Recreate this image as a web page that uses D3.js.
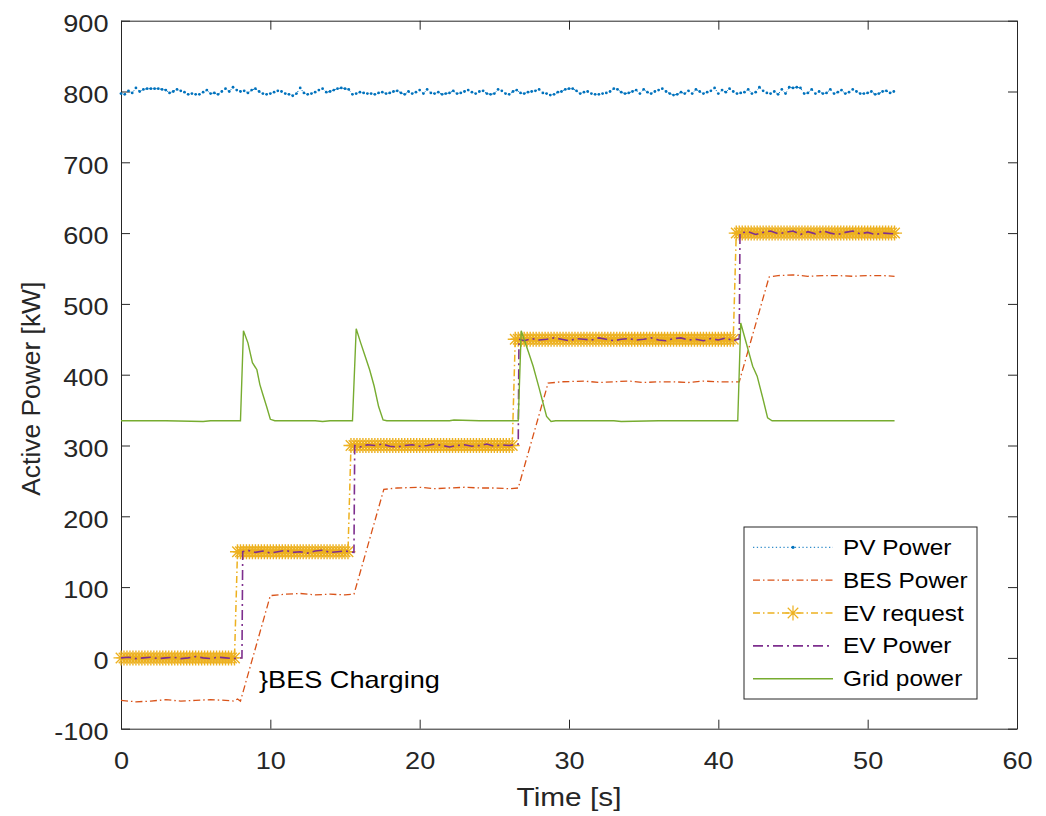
<!DOCTYPE html>
<html>
<head>
<meta charset="utf-8">
<script src="https://cdn.jsdelivr.net/npm/d3@7"></script>
<style>
  body { margin: 0; background: #fff; }
  text { font-family: "Liberation Sans", Arial, Helvetica, sans-serif; fill: #262626; }
</style>
</head>
<body>
<svg width="1046" height="816"></svg>
<script>
// ---- data ----
const xTicks = [0, 10, 20, 30, 40, 50, 60];
const yTicks = [-100, 0, 100, 200, 300, 400, 500, 600, 700, 800, 900];

// PV power, one sample every 0.25 s from t = 0
const pvStep = 0.25;
const pvPower = [
  797,796,801,798,805,800,803,804,804,804,804,803,802,798,800,803,801,799,796,797,
  796,796,799,802,797,798,796,800,804,800,806,802,800,801,798,802,804,800,797,796,
  797,799,801,800,797,796,794,797,805,798,796,797,799,802,804,799,800,802,804,805,
  804,803,796,797,799,798,797,797,796,798,799,797,798,800,801,798,796,800,797,799,
  802,797,803,798,797,799,796,797,798,801,797,798,800,802,799,797,800,801,797,796,
  797,803,801,797,796,800,802,798,797,799,800,801,803,798,797,795,796,799,800,803,
  804,804,801,797,799,800,797,796,796,797,798,800,804,803,799,797,798,800,802,797,
  803,799,797,800,802,804,800,797,795,796,799,797,801,797,803,800,797,799,801,805,
  797,802,799,804,800,797,798,799,803,797,799,806,801,798,797,800,796,803,797,806,
  805,806,805,797,798,803,797,800,797,798,803,797,799,802,797,799,803,800,797,797,
  798,800,796,797,800,801,798,800
];

// BES power [t, kW]
const besPower = [
  [0,-60],[1,-62],[2,-61],[3,-59],[4,-61],[5,-60],[6,-59],[7,-60],[7.6,-61],[7.8,-58],[8.0,-61],
  [10.0,88],[11,90],[12,91],[13,89],[14,90],[15,89],[15.6,90],
  [17.6,238],[18.5,240],[20,241],[21,239],[22,240],[23,241],[24,240],[25,240],[26,239],[26.6,240],
  [28.6,388],[29.5,390],[31,391],[32,389],[33,390],[34,391],[35,389],[36,390],[37,390],[38,389],[39,391],[40,390],[41.4,390],
  [43.4,538],[44,540],[45,541],[46,539],[47,540],[48,540],[49,539],[50,540],[51,540],[51.8,539]
];

// EV request: step levels, switching times, sampled every 0.2 s
const evRequestLevels = [0, 150, 300, 450, 600];
const evRequestSwitch = [7.8, 15.4, 26.4, 41.2];
const evRequestStep = 0.2;
const evRequestEnd = 51.8;

// EV power [t, kW]
const evPower = [
  [0,0],[0.5,1],[1,-1],[1.5,0],[2,1],[2.5,-1],[3,0],[3.5,1],[4,-1],[4.5,0],[5,2],[5.5,0],[6,-1],[6.5,1],[7,0],[7.5,-1],[8.1,0],
  [8.15,150],[8.5,152],[9,149],[9.5,151],[10,148],[10.5,150],[11,152],[11.5,149],[12,150],[12.5,148],[13,151],[13.5,152],[14,149],[14.5,150],[15,151],[15.6,149],
  [15.65,300],[16,298],[16.5,301],[17,300],[17.5,302],[18,299],[18.5,298],[19,300],[19.5,301],[20,299],[20.5,300],[21,302],[21.5,300],[22,298],[22.5,300],[23,301],[23.5,299],[24,300],[24.5,302],[25,299],[25.5,301],[26,300],[26.6,302],
  [26.65,450],[27,448],[27.5,451],[28,449],[28.5,450],[29,452],[29.5,450],[30,448],[30.5,451],[31,450],[31.5,449],[32,452],[32.5,450],[33,448],[33.5,450],[34,451],[34.5,449],[35,450],[35.5,452],[36,449],[36.5,448],[37,451],[37.5,452],[38,449],[38.5,450],[39,448],[39.5,451],[40,449],[40.5,452],[41,448],[41.4,451],
  [41.45,600],[42,602],[42.5,598],[43,601],[43.5,603],[44,599],[44.5,601],[45,603],[45.5,598],[46,602],[46.5,599],[47,603],[47.5,600],[48,598],[48.5,601],[49,603],[49.5,599],[50,601],[50.5,598],[51,600],[51.8,599]
];

// Grid power [t, kW]
const gridPower = [
  [0,335],[3,335],[5.5,334],[6,335],[8.0,335],
  [8.2,462],[8.5,445],[8.8,417],[9.1,407],[9.3,386],[9.5,372],[9.75,355],[10.0,337],[10.3,335],
  [13,335],[13.5,334],[14,335],[15.5,335],
  [15.75,465],[16.05,445],[16.35,426],[16.65,407],[16.95,384],[17.25,355],[17.55,336],[17.8,335],
  [22,335],[22.3,336],[24,335],[26.6,335],
  [26.8,462],[27.3,431],[27.6,412],[28.0,381],[28.2,365],[28.5,341],[28.8,334],[29.1,335],
  [33,335],[33.5,334],[36,335],[41.3,335],
  [41.5,473],[41.8,450],[42.3,412],[42.6,398],[43.0,365],[43.3,339],[43.6,335],[51.8,335]
];

const legendNames = ['PV Power', 'BES Power', 'EV request', 'EV Power', 'Grid power'];
const colors = ['#0072BD', '#D95319', '#EDB120', '#7E2F8E', '#77AC30'];

// ---- drawing ----
const svg = d3.select('svg');
const SX = 1.13; // horizontal stretch of the glyphs in the reference

const x = d3.scaleLinear().domain([0, 60]).range([121, 1017]);
const y = d3.scaleLinear().domain([-100, 900]).range([728.7, 20.7]);

const axisColor = '#262626';

function styleAxis(g) {
  g.select('.domain').attr('stroke', axisColor).attr('stroke-width', 1);
  g.selectAll('.tick line').attr('stroke', axisColor).attr('stroke-width', 1);
}

svg.append('g')
  .attr('transform', `translate(0,${y(-100)})`)
  .call(d3.axisBottom(x).tickValues(xTicks).tickSize(-9).tickSizeOuter(0).tickFormat(d => String(d)))
  .call(styleAxis)
  .call(g => g.selectAll('.tick text')
    .attr('y', 40).attr('dy', null)
    .attr('font-size', 24).attr('fill', axisColor)
    .attr('transform', `scale(${SX},1)`));

svg.append('g')
  .attr('transform', `translate(0,${y(900)})`)
  .call(d3.axisTop(x).tickValues(xTicks).tickSize(-9).tickSizeOuter(0).tickFormat(''))
  .call(styleAxis);

svg.append('g')
  .attr('transform', `translate(${x(0)},0)`)
  .call(d3.axisLeft(y).tickValues(yTicks).tickSize(-9).tickSizeOuter(0).tickFormat(d => String(d)))
  .call(styleAxis)
  .call(g => g.selectAll('.tick text')
    .attr('x', -12.5 / SX).attr('dy', '0.45em')
    .attr('font-size', 24).attr('fill', axisColor)
    .attr('transform', `scale(${SX},1)`));

svg.append('g')
  .attr('transform', `translate(${x(60)},0)`)
  .call(d3.axisRight(y).tickValues(yTicks).tickSize(-9).tickSizeOuter(0).tickFormat(''))
  .call(styleAxis);

svg.selectAll('.tick text').style('font-family', '"Liberation Sans", Arial, sans-serif');

// axis labels
svg.append('text')
  .attr('transform', `translate(${(x(0) + x(60)) / 2},806) scale(${SX},1)`)
  .attr('text-anchor', 'middle')
  .attr('font-size', 26.4)
  .text('Time [s]');

svg.append('text')
  .attr('transform', `translate(40,${(y(-100) + y(900)) / 2 + 14}) rotate(-90)`)
  .attr('text-anchor', 'middle')
  .attr('font-size', 26.4)
  .text('Active Power [kW]');

const line = d3.line().x(d => x(d[0])).y(d => y(d[1]));
const plot = svg.append('g');

// PV power: dotted line with point markers
const pvData = pvPower.map((v, i) => [i * pvStep, v]);
plot.append('path')
  .attr('d', line(pvData))
  .attr('fill', 'none').attr('stroke', colors[0])
  .attr('stroke-width', 1).attr('stroke-dasharray', '1.3,2.5');
plot.append('g').selectAll('circle')
  .data(pvData).enter().append('circle')
  .attr('cx', d => x(d[0])).attr('cy', d => y(d[1]))
  .attr('r', 1.4).attr('fill', colors[0]);

// BES power
plot.append('path')
  .attr('d', line(besPower))
  .attr('fill', 'none').attr('stroke', colors[1])
  .attr('stroke-width', 1.3).attr('stroke-dasharray', '7,3,1.5,3');

// EV request: dash-dot with asterisk markers
const evRequest = d3.range(0, Math.round(evRequestEnd / evRequestStep) + 1).map(i => {
  const t = i * evRequestStep;
  const k = evRequestSwitch.filter(s => s <= t + 1e-9).length;
  return [t, evRequestLevels[k]];
});
const R = 7.5, r2 = R * 0.7;
const starPath = `M${-R},0L${R},0M0,${-R}L0,${R}M${-r2},${-r2}L${r2},${r2}M${-r2},${r2}L${r2},${-r2}`;

plot.append('path')
  .attr('d', line(evRequest))
  .attr('fill', 'none').attr('stroke', colors[2])
  .attr('stroke-width', 1.5).attr('stroke-dasharray', '7,3,1.5,3');
plot.append('g').selectAll('path')
  .data(evRequest).enter().append('path')
  .attr('transform', d => `translate(${x(d[0])},${y(d[1])})`)
  .attr('d', starPath)
  .attr('fill', 'none').attr('stroke', colors[2]).attr('stroke-width', 1.4);

// EV power
plot.append('path')
  .attr('d', line(evPower))
  .attr('fill', 'none').attr('stroke', colors[3])
  .attr('stroke-width', 1.6).attr('stroke-dasharray', '10,4,2,4');

// Grid power
plot.append('path')
  .attr('d', line(gridPower))
  .attr('fill', 'none').attr('stroke', colors[4])
  .attr('stroke-width', 1.4);

// annotation
svg.append('text')
  .attr('transform', `translate(259,688) scale(${SX},1)`)
  .attr('font-size', 24)
  .style('fill', '#000')
  .text('}BES Charging');

// legend
const legend = svg.append('g');
legend.append('rect')
  .attr('x', 744).attr('y', 527).attr('width', 233).attr('height', 172)
  .attr('fill', '#fff').attr('stroke', axisColor).attr('stroke-width', 1);

const rowY = i => 547.3 + i * 32.85;
const dashes = ['1.3,2.5', '7,3,1.5,3', '7,3,1.5,3', '10,4,2,4', null];
const widths = [1, 1.3, 1.3, 1.6, 1.4];

legendNames.forEach((name, i) => {
  const ly = rowY(i);
  legend.append('line')
    .attr('x1', 753).attr('x2', 833).attr('y1', ly).attr('y2', ly)
    .attr('stroke', colors[i]).attr('stroke-width', widths[i])
    .attr('stroke-dasharray', dashes[i]);
  if (i === 0) {
    legend.append('circle').attr('cx', 793).attr('cy', ly).attr('r', 1.6).attr('fill', colors[0]);
  }
  if (i === 2) {
    legend.append('path')
      .attr('transform', `translate(793,${ly})`)
      .attr('d', starPath).attr('fill', 'none')
      .attr('stroke', colors[2]).attr('stroke-width', 1.2);
  }
  legend.append('text')
    .attr('transform', `translate(843,${ly + 7.6}) scale(${SX},1)`)
    .attr('font-size', 21.6)
    .style('fill', '#000')
    .text(name);
});
</script>
</body>
</html>
